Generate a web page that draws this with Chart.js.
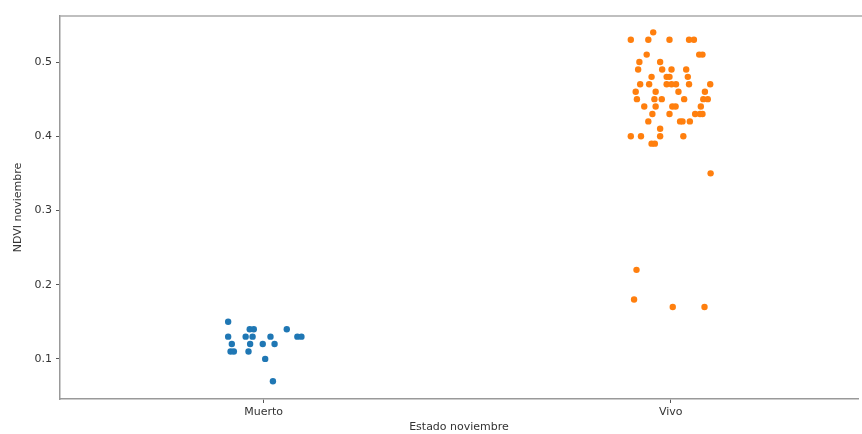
<!DOCTYPE html>
<html>
<head>
<meta charset="utf-8">
<script src="https://cdn.jsdelivr.net/npm/chart.js@4"></script>
<style>
  html, body { margin: 0; padding: 0; background: #fff; }
  #wrap { width: 862px; height: 434px; }
</style>
</head>
<body>
<div id="wrap"><canvas id="strip"></canvas></div>
<script>
const categories = ['Muerto', 'Vivo'];

// Muerto: NDVI values and their horizontal jitter
const muertoNdvi = [0.15, 0.14, 0.14, 0.14, 0.13, 0.13, 0.13, 0.13, 0.13, 0.13,
  0.12, 0.12, 0.12, 0.12, 0.11, 0.11, 0.11, 0.10, 0.07];
const muertoJitter = [-0.087, -0.034, -0.024, 0.057, -0.087, -0.044, -0.027, 0.017, 0.083, 0.093,
  -0.078, -0.033, -0.002, 0.027, -0.081, -0.073, -0.037, 0.004, 0.023];

// Vivo
const vivoNdvi = [0.54,
  0.53, 0.53, 0.53, 0.53, 0.53,
  0.51, 0.51, 0.51,
  0.50, 0.50,
  0.49, 0.49, 0.49, 0.49,
  0.48, 0.48, 0.48, 0.48,
  0.47, 0.47, 0.47, 0.47, 0.47, 0.47, 0.47,
  0.46, 0.46, 0.46, 0.46,
  0.45, 0.45, 0.45, 0.45, 0.45, 0.45,
  0.44, 0.44, 0.44, 0.44, 0.44,
  0.43, 0.43, 0.43, 0.43, 0.43,
  0.42, 0.42, 0.42, 0.42,
  0.41,
  0.40, 0.40, 0.40, 0.40,
  0.39, 0.39,
  0.35, 0.22, 0.18, 0.17, 0.17];
const vivoJitter = [-0.043,
  -0.098, -0.055, -0.003, 0.045, 0.057,
  -0.059, 0.070, 0.078,
  -0.077, -0.026,
  -0.080, -0.021, 0.002, 0.038,
  -0.047, -0.010, -0.003, 0.042,
  -0.075, -0.053, -0.010, 0.002, 0.013, 0.045, 0.097,
  -0.086, -0.037, 0.019, 0.084,
  -0.083, -0.040, -0.022, 0.033, 0.080, 0.091,
  -0.065, -0.037, 0.004, 0.012, 0.074,
  -0.045, -0.003, 0.060, 0.072, 0.078,
  -0.055, 0.023, 0.029, 0.047,
  -0.026,
  -0.098, -0.073, -0.026, 0.031,
  -0.047, -0.039,
  0.098, -0.084, -0.090, 0.005, 0.083];

const yTicks = [0.1, 0.2, 0.3, 0.4, 0.5];

function toPoints(idx, vals, jit) {
  return vals.map((v, i) => ({ x: idx + jit[i], y: v }));
}

const topBorder = {
  id: 'topBorder',
  afterDraw(chart) {
    const { ctx, chartArea } = chart;
    ctx.save();
    ctx.strokeStyle = '#aaa';
    ctx.lineWidth = 1.5;
    ctx.beginPath();
    ctx.moveTo(chartArea.left, chartArea.top);
    ctx.lineTo(chart.width, chartArea.top);
    ctx.stroke();
    ctx.restore();
  }
};

const font = { family: 'DejaVu Sans', size: 11 };

new Chart(document.getElementById('strip'), {
  type: 'scatter',
  data: {
    datasets: [
      {
        label: categories[0],
        data: toPoints(0, muertoNdvi, muertoJitter),
        backgroundColor: '#1f77b4',
        borderWidth: 0,
        pointRadius: 3.2
      },
      {
        label: categories[1],
        data: toPoints(1, vivoNdvi, vivoJitter),
        backgroundColor: '#ff7f0e',
        borderWidth: 0,
        pointRadius: 3.2
      }
    ]
  },
  options: {
    responsive: true,
    maintainAspectRatio: false,
    animation: false,
    layout: { padding: { top: 16, left: 12, right: 0, bottom: 0 } },
    plugins: {
      legend: { display: false },
      tooltip: { enabled: false }
    },
    scales: {
      x: {
        type: 'linear',
        min: -0.5,
        max: 1.46,
        afterBuildTicks: (axis) => { axis.ticks = categories.map((c, i) => ({ value: i })); },
        afterFit: (axis) => { axis.height = 35; },
        ticks: {
          color: '#333',
          font: font,
          padding: 3,
          callback: (v) => categories[v]
        },
        grid: { drawOnChartArea: false, drawTicks: true, tickLength: 4, color: '#555' },
        border: { color: '#999', width: 1.5 },
        title: {
          display: true,
          text: 'Estado noviembre',
          color: '#333',
          font: font,
          padding: { top: 4, bottom: 0 }
        }
      },
      y: {
        min: 0.046,
        max: 0.562,
        afterBuildTicks: (axis) => { axis.ticks = yTicks.map(v => ({ value: v })); },
        afterFit: (axis) => { axis.width = 48; },
        ticks: {
          color: '#333',
          font: font,
          padding: 4,
          callback: (v) => v.toFixed(1)
        },
        grid: { drawOnChartArea: false, drawTicks: true, tickLength: 4, color: '#555' },
        border: { color: '#999', width: 1.5 },
        title: {
          display: true,
          text: 'NDVI noviembre',
          color: '#333',
          font: font,
          padding: { top: 0, bottom: 0 }
        }
      }
    }
  },
  plugins: [topBorder]
});
</script>
</body>
</html>
